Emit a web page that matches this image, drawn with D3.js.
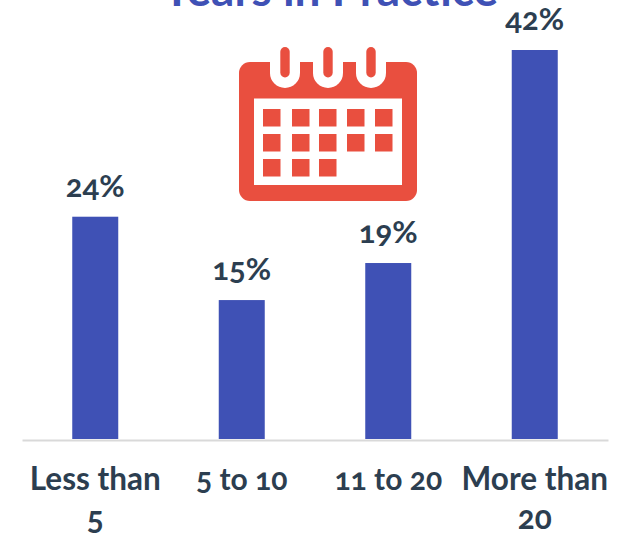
<!DOCTYPE html>
<html>
<head>
<meta charset="utf-8">
<script src="https://cdn.jsdelivr.net/npm/d3@7"></script>
<style>
html,body{margin:0;padding:0;background:#fff;overflow:hidden}
text{font-family:Lato,"Open Sans",sans-serif;font-feature-settings:"onum" 1,"lnum" 0;font-variant-numeric:oldstyle-nums}
</style>
</head>
<body>
<svg id="chart" width="623" height="537"></svg>
<script>
const categories = ["Less than 5", "5 to 10", "11 to 20", "More than 20"];
const tickLines = [["Less than", "5"], ["5 to 10"], ["11 to 20"], ["More than", "20"]];
const shares = [24, 15, 19, 42];
const chartTitle = "Years in Practice";

const BLUE = "#3f51b5", INK = "#2c3e50", RED = "#e94f3f";
const svg = d3.select("#chart");

const x = d3.scaleBand().domain(categories).range([22, 608]).paddingInner(0.686).paddingOuter(0.343);
const y = d3.scaleLinear().domain([0, 42]).range([439, 50]);

// Title, running off the top edge of the page
svg.append("text").attr("x", 330).attr("y", 6).attr("text-anchor", "middle")
  .attr("font-size", 46).attr("font-weight", 700).attr("fill", BLUE).text(chartTitle);

// Bars and value labels
svg.selectAll("rect.bar").data(shares).join("rect").attr("class", "bar")
  .attr("x", (d, i) => x(categories[i])).attr("width", x.bandwidth())
  .attr("y", d => y(d)).attr("height", d => y(0) - y(d)).attr("fill", BLUE);

svg.selectAll("text.value").data(shares).join("text").attr("class", "value")
  .attr("x", (d, i) => x(categories[i]) + x.bandwidth() / 2)
  .attr("y", d => y(d) - 20).attr("text-anchor", "middle")
  .attr("font-size", 31).attr("font-weight", 700).attr("fill", INK).text(d => d + "%");

// Category axis: baseline plus wrapped labels
const axis = svg.append("g").attr("transform", `translate(0,${y(0)})`)
  .call(d3.axisBottom(x).tickSize(0).tickFormat(""));
axis.select(".domain").attr("stroke", "#d9d9d9").attr("stroke-width", 2)
  .attr("transform", "translate(0,1)");
axis.selectAll(".tick").each(function (d, i) {
  const wrapped = tickLines[i].length > 1;
  const label = d3.select(this).select("text").text(null)
    .attr("y", 0).attr("dy", null).attr("font-size", wrapped ? 31.5 : 30).attr("font-weight", 700)
    .attr("fill", INK).attr("text-anchor", "middle");
  tickLines[i].forEach((line, k) => {
    label.append("tspan").attr("x", 0).attr("y", 51 + k * 39).text(line);
  });
});

// Calendar pictogram
const icon = svg.append("g").attr("fill", RED);
icon.append("rect").attr("x", 239).attr("y", 62).attr("width", 178).attr("height", 139).attr("rx", 11);
const ringX = [285, 328, 371];
icon.selectAll("path.notch").data(ringX).join("path").attr("class", "notch").attr("fill", "#fff")
  .attr("d", d => `M${d - 15},60V73A15,15 0 0 0 ${d + 15},73V60Z`);
icon.selectAll("rect.pin").data(ringX).join("rect").attr("class", "pin")
  .attr("x", d => d - 4.7).attr("y", 47).attr("width", 9.4).attr("height", 30.5).attr("rx", 4.7);
icon.append("rect").attr("x", 254).attr("y", 98.5).attr("width", 148).attr("height", 86.5).attr("fill", "#fff");
const cellX = [263, 292, 319, 347, 375];
const cellY = [109, 134, 159];
const cellCounts = [5, 5, 3];
cellY.forEach((cy, r) => {
  cellX.slice(0, cellCounts[r]).forEach(cx => {
    icon.append("rect").attr("x", cx).attr("y", cy).attr("width", 17.5).attr("height", 17.5);
  });
});
</script>
</body>
</html>
